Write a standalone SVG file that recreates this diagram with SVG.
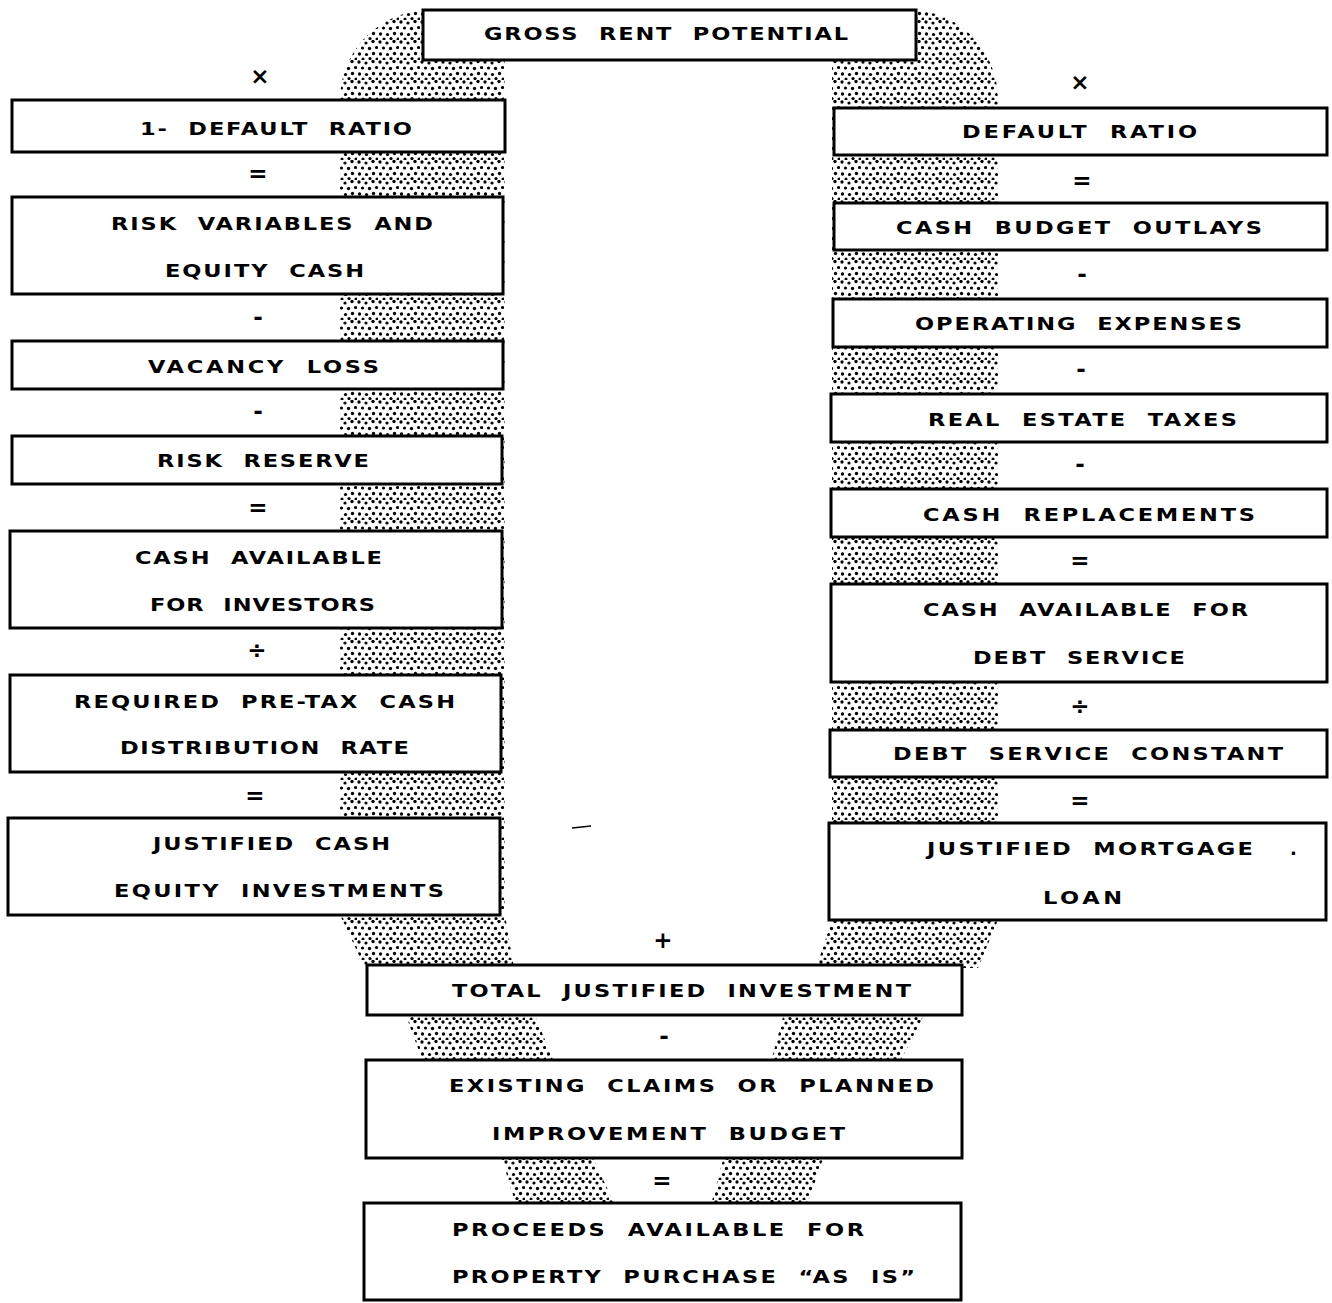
<svg xmlns="http://www.w3.org/2000/svg" width="1332" height="1303" viewBox="0 0 1332 1303">
  <defs>
    <!-- irregular dot screen used for the shaded band -->
    <pattern id="stipple" patternUnits="userSpaceOnUse" width="21" height="20">
      <circle cx="2" cy="2" r="1.65"/>
      <circle cx="9" cy="3" r="1.6"/>
      <circle cx="16" cy="1.5" r="1.65"/>
      <circle cx="5.5" cy="8" r="1.6"/>
      <circle cx="12.5" cy="8.5" r="1.65"/>
      <circle cx="19.5" cy="7.5" r="1.6"/>
      <circle cx="2.5" cy="14" r="1.65"/>
      <circle cx="9.5" cy="14.5" r="1.6"/>
      <circle cx="16.5" cy="13.5" r="1.65"/>
      <circle cx="6" cy="19" r="1.5"/>
      <circle cx="13" cy="18.5" r="1.6"/>
      <circle cx="20" cy="19" r="1.5"/>
    </pattern>
    <style>
      .box { fill: #fff; stroke: #000; stroke-width: 3; }
      .lbl { font-family: "DejaVu Sans", "Liberation Sans", sans-serif; font-weight: bold; font-size: 18px; word-spacing: 8px; fill: #000; }
      .op  { font-family: "DejaVu Sans", "Liberation Sans", sans-serif; font-weight: bold; font-size: 23px; fill: #000; text-anchor: middle; }
      .dots { fill: url(#stipple); stroke: none; }
    </style>
  </defs>

  <!-- shaded band behind the boxes -->
  <g id="band">
    <path class="dots" d="M340,915 L340,100 A90,90 0 0 1 430,10 L505,10 L505,915 L514,968 L365,968 Z"/>
    <path class="dots" d="M832,10 L910,10 A88,90 0 0 1 998,100 L998,920 L978,968 L816,968 L832,920 Z"/>
    <polygon class="dots" points="405,1013 534,1013 554,1062 423,1062"/>
    <polygon class="dots" points="784,1013 925,1013 900,1062 771,1062"/>
    <polygon class="dots" points="501,1156 592,1156 615,1205 516,1205"/>
    <polygon class="dots" points="724,1156 824,1156 807,1205 711,1205"/>
  </g>

  <!-- operators between steps -->
  <g id="connectors">
    <text class="op" x="260" y="84">×</text>
    <text class="op" x="258" y="181">=</text>
    <text class="op" x="258" y="325">-</text>
    <text class="op" x="258" y="419">-</text>
    <text class="op" x="258" y="515">=</text>
    <text class="op" x="257" y="658">÷</text>
    <text class="op" x="255" y="803">=</text>

    <text class="op" x="1080" y="90">×</text>
    <text class="op" x="1082" y="188">=</text>
    <text class="op" x="1082" y="282">-</text>
    <text class="op" x="1081" y="377">-</text>
    <text class="op" x="1080" y="472">-</text>
    <text class="op" x="1080" y="568">=</text>
    <text class="op" x="1080" y="714">÷</text>
    <text class="op" x="1080" y="808">=</text>

    <text class="op" x="663" y="948">+</text>
    <text class="op" x="664" y="1044">-</text>
    <text class="op" x="662" y="1188">=</text>

    <line x1="572" y1="828" x2="591" y2="826" stroke="#000" stroke-width="1.5"/>
  </g>

  <!-- labels use a widened face: scale(1.25,1), lengths given in local units -->
  <g id="gross-rent-potential">
    <rect class="box" x="423" y="10" width="493" height="50"/>
    <text class="lbl" transform="translate(484,40) scale(1.25,1)" textLength="291.2" lengthAdjust="spacing">GROSS RENT POTENTIAL</text>
  </g>

  <!-- left column -->
  <g id="one-minus-default-ratio">
    <rect class="box" x="12" y="100" width="493" height="52"/>
    <text class="lbl" transform="translate(140,135) scale(1.25,1)" textLength="217.6" lengthAdjust="spacing">1- DEFAULT RATIO</text>
  </g>
  <g id="risk-variables">
    <rect class="box" x="12" y="197" width="491" height="97"/>
    <text class="lbl" transform="translate(111,230) scale(1.25,1)" textLength="257.6" lengthAdjust="spacing">RISK VARIABLES AND</text>
    <text class="lbl" transform="translate(165,277) scale(1.25,1)" textLength="159.2" lengthAdjust="spacing">EQUITY CASH</text>
  </g>
  <g id="vacancy-loss">
    <rect class="box" x="12" y="341" width="491" height="48"/>
    <text class="lbl" transform="translate(148,373) scale(1.25,1)" textLength="184.8" lengthAdjust="spacing">VACANCY LOSS</text>
  </g>
  <g id="risk-reserve">
    <rect class="box" x="12" y="436" width="490" height="48"/>
    <text class="lbl" transform="translate(157,467) scale(1.25,1)" textLength="169.6" lengthAdjust="spacing">RISK RESERVE</text>
  </g>
  <g id="cash-available-investors">
    <rect class="box" x="10" y="531" width="492" height="97"/>
    <text class="lbl" transform="translate(135,564) scale(1.25,1)" textLength="197.6" lengthAdjust="spacing">CASH AVAILABLE</text>
    <text class="lbl" transform="translate(150,611) scale(1.25,1)" textLength="180" lengthAdjust="spacing">FOR INVESTORS</text>
  </g>
  <g id="required-rate">
    <rect class="box" x="10" y="675" width="491" height="97"/>
    <text class="lbl" transform="translate(74,708) scale(1.25,1)" textLength="304.8" lengthAdjust="spacing">REQUIRED PRE-TAX CASH</text>
    <text class="lbl" transform="translate(120,754) scale(1.25,1)" textLength="231.2" lengthAdjust="spacing">DISTRIBUTION RATE</text>
  </g>
  <g id="justified-equity">
    <rect class="box" x="8" y="818" width="492" height="97"/>
    <text class="lbl" transform="translate(153,850) scale(1.25,1)" textLength="189.6" lengthAdjust="spacing">JUSTIFIED CASH</text>
    <text class="lbl" transform="translate(114,897) scale(1.25,1)" textLength="264" lengthAdjust="spacing">EQUITY INVESTMENTS</text>
  </g>

  <!-- right column -->
  <g id="default-ratio">
    <rect class="box" x="834" y="108" width="493" height="47"/>
    <text class="lbl" transform="translate(962,138) scale(1.25,1)" textLength="188" lengthAdjust="spacing">DEFAULT RATIO</text>
  </g>
  <g id="cash-budget-outlays">
    <rect class="box" x="834" y="203" width="493" height="47"/>
    <text class="lbl" transform="translate(896,234) scale(1.25,1)" textLength="292.8" lengthAdjust="spacing">CASH BUDGET OUTLAYS</text>
  </g>
  <g id="operating-expenses">
    <rect class="box" x="833" y="299" width="494" height="48"/>
    <text class="lbl" transform="translate(915,330) scale(1.25,1)" textLength="261.6" lengthAdjust="spacing">OPERATING EXPENSES</text>
  </g>
  <g id="real-estate-taxes">
    <rect class="box" x="831" y="394" width="496" height="48"/>
    <text class="lbl" transform="translate(928,426) scale(1.25,1)" textLength="247.2" lengthAdjust="spacing">REAL ESTATE TAXES</text>
  </g>
  <g id="cash-replacements">
    <rect class="box" x="831" y="489" width="496" height="48"/>
    <text class="lbl" transform="translate(923,521) scale(1.25,1)" textLength="265.6" lengthAdjust="spacing">CASH REPLACEMENTS</text>
  </g>
  <g id="cash-available-debt">
    <rect class="box" x="831" y="584" width="496" height="98"/>
    <text class="lbl" transform="translate(923,616) scale(1.25,1)" textLength="260" lengthAdjust="spacing">CASH AVAILABLE FOR</text>
    <text class="lbl" transform="translate(973,664) scale(1.25,1)" textLength="169.6" lengthAdjust="spacing">DEBT SERVICE</text>
  </g>
  <g id="debt-service-constant">
    <rect class="box" x="830" y="730" width="497" height="47"/>
    <text class="lbl" transform="translate(893,760) scale(1.25,1)" textLength="312" lengthAdjust="spacing">DEBT SERVICE CONSTANT</text>
  </g>
  <g id="justified-mortgage">
    <rect class="box" x="829" y="823" width="497" height="97"/>
    <text class="lbl" transform="translate(927,855) scale(1.25,1)" textLength="260.8" lengthAdjust="spacing">JUSTIFIED MORTGAGE</text>
    <text class="lbl" x="1290" y="855">.</text>
    <text class="lbl" transform="translate(1043,904) scale(1.25,1)" textLength="63.2" lengthAdjust="spacing">LOAN</text>
  </g>

  <!-- bottom chain -->
  <g id="total-justified-investment">
    <rect class="box" x="367" y="965" width="595" height="50"/>
    <text class="lbl" transform="translate(452,997) scale(1.25,1)" textLength="367.2" lengthAdjust="spacing">TOTAL JUSTIFIED INVESTMENT</text>
  </g>
  <g id="existing-claims">
    <rect class="box" x="366" y="1060" width="596" height="98"/>
    <text class="lbl" transform="translate(449,1092) scale(1.25,1)" textLength="388" lengthAdjust="spacing">EXISTING CLAIMS OR PLANNED</text>
    <text class="lbl" transform="translate(492,1140) scale(1.25,1)" textLength="282.4" lengthAdjust="spacing">IMPROVEMENT BUDGET</text>
  </g>
  <g id="proceeds-available">
    <rect class="box" x="364" y="1203" width="597" height="97"/>
    <text class="lbl" transform="translate(452,1236) scale(1.25,1)" textLength="329.6" lengthAdjust="spacing">PROCEEDS AVAILABLE FOR</text>
    <text class="lbl" transform="translate(452,1283) scale(1.25,1)" textLength="370.4" lengthAdjust="spacing">PROPERTY PURCHASE “AS IS”</text>
  </g>
</svg>
